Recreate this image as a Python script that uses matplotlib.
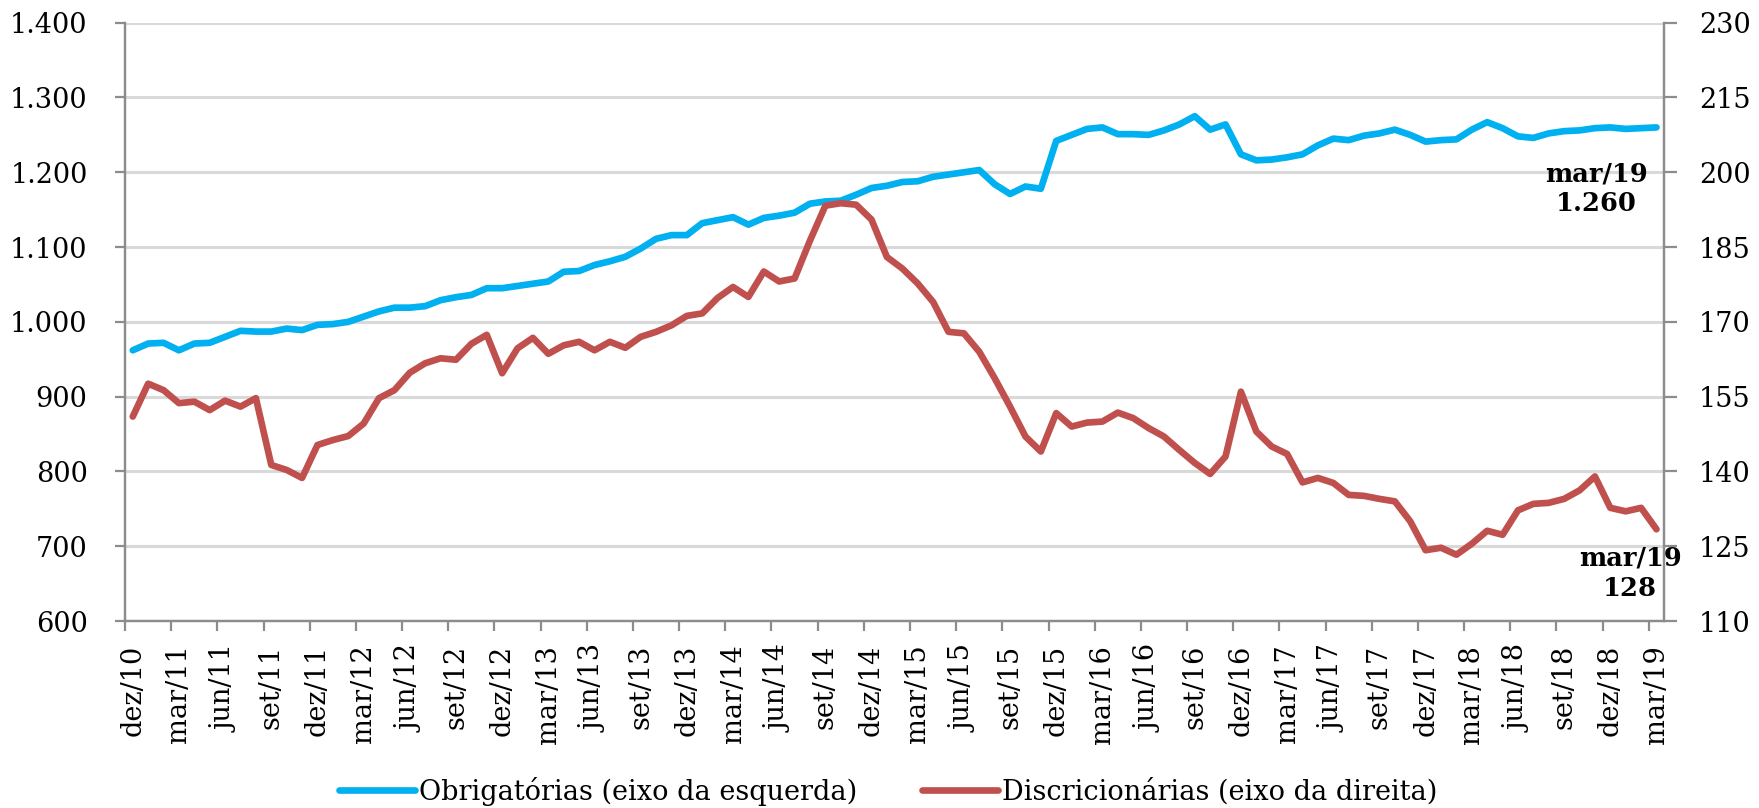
import matplotlib.pyplot as plt
import numpy as np
from matplotlib.ticker import FuncFormatter, FixedLocator

# Data (monthly, dez/10 to mar/19)
obrigatorias = [962, 971, 972, 962, 971, 972, 980, 988, 987, 987,
                991, 989, 996, 997, 1000, 1007, 1014, 1019, 1019, 1021,
                1029, 1033, 1036, 1045, 1045, 1048, 1051, 1054, 1067, 1068,
                1076, 1081, 1087, 1098, 1111, 1116, 1116, 1132, 1136, 1140,
                1130, 1139, 1142, 1146, 1158, 1161, 1162, 1170, 1179, 1182,
                1187, 1188, 1194, 1197, 1200, 1203, 1184, 1171, 1181, 1178,
                1242, 1250, 1258, 1260, 1251, 1251, 1250, 1256, 1264, 1275,
                1257, 1264, 1224, 1216, 1217, 1220, 1224, 1236, 1245, 1243,
                1249, 1252, 1257, 1250, 1241, 1243, 1244, 1257, 1267, 1259,
                1248, 1246, 1252, 1255, 1256, 1259, 1260, 1258, 1259, 1260]

discricionarias = [151.0, 157.6, 156.3, 153.7, 154.0, 152.3, 154.2, 153.0, 154.7, 141.3,
                   140.3, 138.7, 145.3, 146.3, 147.1, 149.6, 154.7, 156.3, 159.8, 161.7,
                   162.7, 162.4, 165.6, 167.4, 159.7, 164.7, 166.8, 163.6, 165.3, 166.0,
                   164.3, 166.0, 164.8, 167.0, 168.0, 169.3, 171.2, 171.7, 174.8, 177.0,
                   175.0, 180.1, 178.1, 178.7, 186.3, 193.3, 193.8, 193.5, 190.5, 183.0,
                   180.7, 177.7, 174.0, 168.0, 167.7, 164.0, 158.7, 153.0, 147.0, 144.0,
                   151.7, 149.0, 149.8, 150.0, 151.8, 150.7, 148.7, 147.0, 144.3, 141.7,
                   139.5, 143.0, 156.0, 148.0, 145.0, 143.5, 137.8, 138.7, 137.7, 135.3,
                   135.1, 134.5, 134.0, 130.0, 124.2, 124.7, 123.3, 125.5, 128.1, 127.3,
                   132.2, 133.5, 133.7, 134.5, 136.2, 139.0, 132.7, 132.0, 132.7, 128.4]

tick_labels = ['dez/10', 'mar/11', 'jun/11', 'set/11', 'dez/11', 'mar/12', 'jun/12',
               'set/12', 'dez/12', 'mar/13', 'jun/13', 'set/13', 'dez/13', 'mar/14',
               'jun/14', 'set/14', 'dez/14', 'mar/15', 'jun/15', 'set/15', 'dez/15',
               'mar/16', 'jun/16', 'set/16', 'dez/16', 'mar/17', 'jun/17', 'set/17',
               'dez/17', 'mar/18', 'jun/18', 'set/18', 'dez/18', 'mar/19']

plt.rcParams['font.family'] = ['DejaVu Serif']
plt.rcParams['font.size'] = 19.5

blue = '#00B0F0'
red = '#C0504D'
spine_c = '#8C8C8C'

n = len(obrigatorias)
x = np.arange(n) + 0.5

fig = plt.figure(figsize=(17.59, 8.08), dpi=100)
ax = fig.add_axes([0.0711, 0.2314, 0.875, 0.7405])
ax2 = ax.twinx()

l1, = ax.plot(x, obrigatorias, color=blue, lw=4.8, solid_capstyle='round',
              solid_joinstyle='round', label='Obrigatórias (eixo da esquerda)')
l2, = ax2.plot(x, discricionarias, color=red, lw=4.8, solid_capstyle='round',
               solid_joinstyle='round', label='Discricionárias (eixo da direita)')

ax.set_xlim(0, n)
ax.set_ylim(600, 1400)
ax2.set_ylim(110, 230)
ax.set_yticks(np.arange(600, 1401, 100))
ax2.set_yticks(np.arange(110, 231, 15))
ax.yaxis.set_major_formatter(FuncFormatter(lambda v, p: f'{int(v):,}'.replace(',', '.')))

ax.grid(axis='y', color='#D9D9D9', lw=2.2)
ax.set_axisbelow(True)

# ticks at category boundaries, labels centred on the category
tick_pos = np.arange(0, n, 3)
ax.xaxis.set_major_locator(FixedLocator(tick_pos))
ax.xaxis.set_minor_locator(FixedLocator(tick_pos + 0.5))
ax.set_xticklabels([''] * len(tick_pos))
ax.set_xticklabels(tick_labels, minor=True, rotation=90)
ax.tick_params(axis='x', which='major', length=7, width=1.6, color=spine_c, direction='out')
ax.tick_params(axis='x', which='minor', length=0, pad=17)
ax.tick_params(axis='y', length=7, width=1.6, color=spine_c, pad=20)
ax2.tick_params(axis='y', length=9, width=1.6, color=spine_c, pad=16)

for a in (ax, ax2):
    a.spines['top'].set_visible(False)
    for s in ('left', 'right', 'bottom'):
        a.spines[s].set_color(spine_c)
        a.spines[s].set_linewidth(1.6)

# end-point labels
ax.text(95.6, 1178, 'mar/19\n1.260', ha='center', va='center', fontsize=18.5,
        fontweight='bold', linespacing=1.25)
ax2.text(97.8, 119.6, 'mar/19\n128', ha='center', va='center', fontsize=18.5,
         fontweight='bold', linespacing=1.25)

fig.legend(handles=[l1, l2], loc='center', bbox_to_anchor=(0.505, 0.021), ncol=2,
           frameon=False, handlelength=2.8, handletextpad=0.15, columnspacing=2.4,
           fontsize=19.5)

fig.savefig('out.png', dpi=100)
